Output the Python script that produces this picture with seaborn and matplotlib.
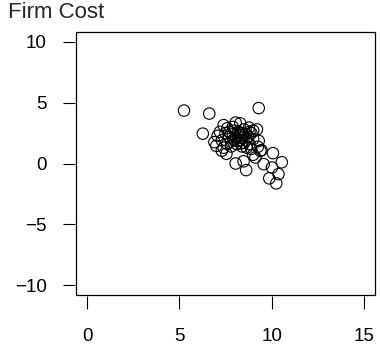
import seaborn as sns
import matplotlib.pyplot as plt
from matplotlib.patches import Rectangle

# data
firm_x = [5.25, 6.62, 9.3, 6.27,
          7.4, 8.05, 8.77, 9.2, 7.6, 7.9, 8.3, 9.0,
          6.9, 7.07, 7.2, 7.0, 7.3, 7.5, 7.4, 7.3, 7.55,
          7.7, 7.8, 7.9, 8.0, 8.1, 8.2, 8.3, 8.4, 8.5, 8.6, 8.0, 8.2, 7.6, 7.8,
          8.4, 8.6, 8.7, 8.8, 8.9, 8.5, 8.1, 8.3, 7.95, 8.45, 8.15, 8.35, 7.7,
          8.65, 8.9, 9.0, 8.8,
          9.3, 9.39, 9.12, 9.25, 9.45, 9.0, 8.05, 8.48, 8.62,
          10.07, 10.55, 9.57, 10.02, 10.37, 9.87, 10.25]
firm_cost = [4.35, 4.1, 4.55, 2.45,
             3.15, 3.36, 2.95, 2.8, 2.9, 3.0, 3.3, 2.7,
             1.75, 2.27, 2.6, 1.45, 1.9, 2.5, 1.3, 1.05, 0.8,
             2.2, 1.8, 2.4, 2.0, 1.6, 2.3, 1.9, 2.1, 1.7, 2.4, 2.7, 2.6, 1.6, 1.4,
             1.4, 1.9, 2.2, 1.6, 2.5, 2.8, 2.1, 2.5, 1.95, 2.35, 1.85, 1.65, 2.6,
             1.3, 1.2, 2.0, 2.6,
             1.85, 1.04, 0.5, 1.37, 1.1, 0.72, 0.0, 0.18, -0.54,
             0.85, 0.1, -0.05, -0.33, -0.87, -1.22, -1.63]
x_ticks = [0, 5, 10, 15]
y_ticks = [-10, -5, 0, 5, 10]

sns.set_style("white")
plt.rcParams['font.family'] = ['Liberation Sans', 'DejaVu Sans']

fig = plt.figure(figsize=(3.81, 3.46), dpi=100)
ax = fig.add_axes([76 / 381, 1 - 295 / 346, 299 / 381, 263 / 346])

sns.scatterplot(x=firm_x, y=firm_cost, ax=ax, marker="o", s=68,
                facecolor="none", edgecolor="black", linewidth=0.8)

ax.set_xlim(-0.6, 15.6)
ax.set_ylim(-10.8, 10.8)
ax.set_xticks(x_ticks)
ax.set_yticks(y_ticks)
ax.set_yticklabels(["\u221210", "\u22125", "0", "5", "10"])

# box drawn separately, axis ticks sit just outside it
for side in ["left", "bottom"]:
    ax.spines[side].set_position(("outward", 1))
    ax.spines[side].set_color("none")
for side in ["top", "right"]:
    ax.spines[side].set_visible(False)
ax.add_patch(Rectangle((0, 0), 1, 1, transform=ax.transAxes, fill=False,
                       lw=0.9, edgecolor="black", clip_on=False))

ax.tick_params(axis="both", bottom=True, left=True, direction="out",
               length=9, width=0.8, color="black", labelsize=13.5,
               labelcolor="black")
ax.tick_params(axis="x", pad=14)
ax.tick_params(axis="y", pad=11)
ax.set_xlabel("")
ax.set_ylabel("")

fig.text(8 / 381, 1 - 13 / 346, "Firm Cost", ha="left", va="center", fontsize=16)

fig.savefig("out.png", dpi=100)
